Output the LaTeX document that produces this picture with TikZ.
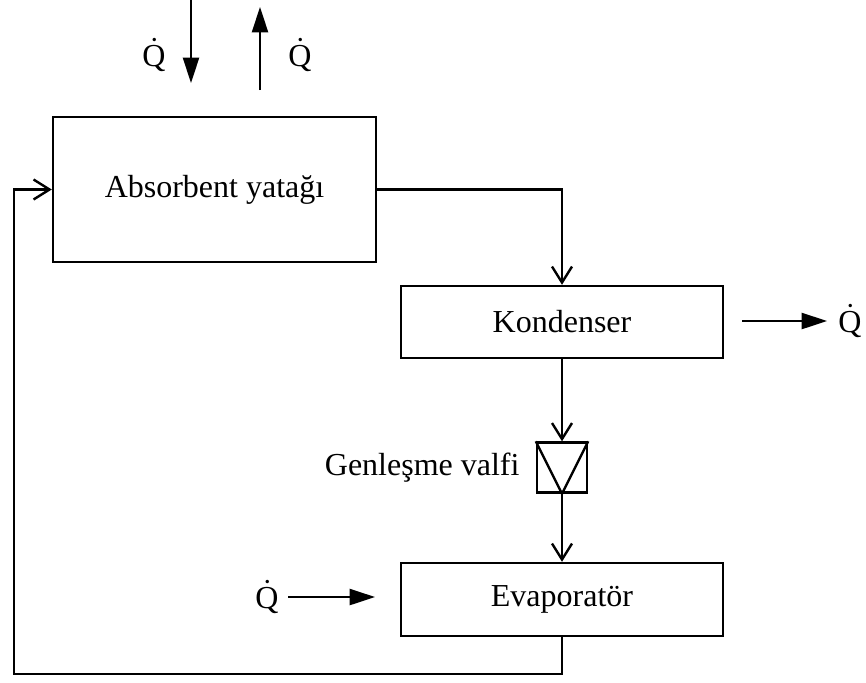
\documentclass[tikz,border=0pt]{standalone}
\usepackage{fontspec}
\setmainfont{Liberation Serif}
\usetikzlibrary{arrows.meta, positioning}

\begin{document}
\begin{tikzpicture}[x=0.75pt, y=-0.75pt, line width=1.8pt, font=\fontsize{24}{29}\selectfont,
  unit/.style={draw, rectangle, inner sep=0pt, minimum width=241.5pt, minimum height=54pt},
  valvebox/.style={draw, rectangle, inner sep=0pt, minimum size=37.5pt},
  flow/.style={-{Straight Barb[length=12pt, width=15pt]}},
  heat/.style={-{Triangle[length=19pt, width=12pt]}}]
  \useasboundingbox (0,0) rectangle (866,682);

  \node[unit, minimum width=242.25pt, minimum height=108.75pt] (abs) at (214.5,189.5) {Absorbent yatağı};
  \node[unit] (kond) at (562,322) {Kondenser};
  \node[valvebox] (valve) at (562,467.5) {};
  \node[left=8pt of valve] (valvelabel) {Genleşme valfi};
  \node[unit, minimum height=54.75pt] (evap) at (562,599.5) {Evaporatör};

  \node (qin) at (154,55) {Q̇};
  \node (qout) at (300,55) {Q̇};
  \node (qkond) at (850,321) {Q̇};
  \node (qevap) at (267,597) {Q̇};

  \coordinate (inA) at (191,0);
  \coordinate (inB) at (191,83);
  \coordinate (outA) at (260,90);
  \coordinate (outB) at (260,7);
  \coordinate (kA) at (742,321);
  \coordinate (kB) at (827,321);
  \coordinate (eA) at (288,597);
  \coordinate (eB) at (375,597);
  \coordinate (ret) at (14,674);

  \draw (valve.north west) -- (valve.south) -- (valve.north east);

  \draw[flow] (abs.east) -| (kond.north);
  \draw[flow] (kond.south) -- (valve.north);
  \draw[flow] (valve.south) -- (evap.north);
  \draw[flow] (evap.south) |- (ret) |- (abs.west);

  \draw[heat] (inA) -- (inB);
  \draw[heat] (outA) -- (outB);
  \draw[heat] (kA) -- (kB);
  \draw[heat] (eA) -- (eB);
\end{tikzpicture}
\end{document}
